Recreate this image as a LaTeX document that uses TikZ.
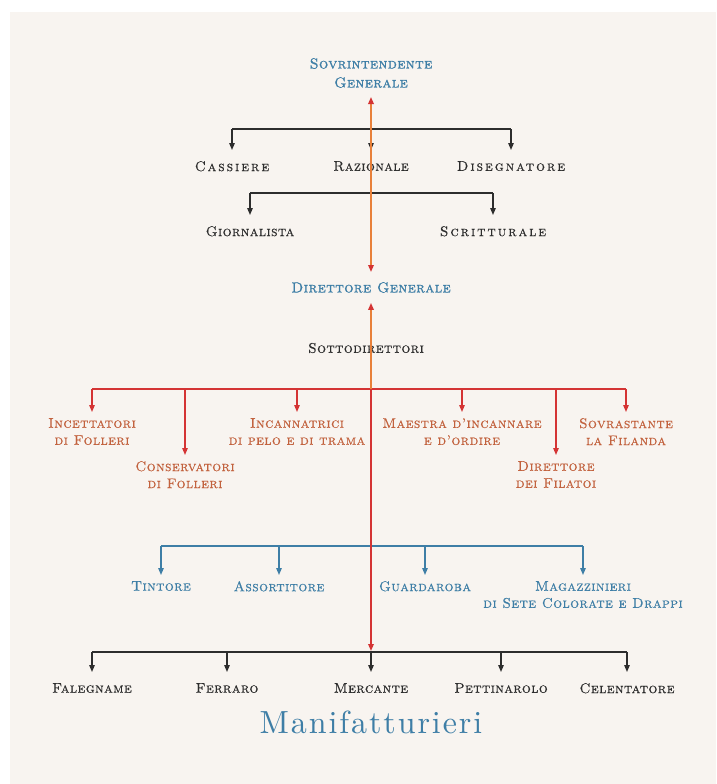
\documentclass[tikz,border=0pt]{standalone}
\usepackage{fontspec}
\usetikzlibrary{arrows.meta}

\newfontfamily\capsfont{lmromancaps10-regular.otf}[LetterSpace=3,FakeBold=0.5]
\newfontfamily\headfont{lmromancaps10-regular.otf}[LetterSpace=3,FakeBold=1.4]
\newfontfamily\titlefont{lmroman10-regular.otf}[LetterSpace=6]

\definecolor{paper}{RGB}{248,244,240}
\definecolor{ink}{RGB}{45,45,45}
\definecolor{steel}{RGB}{62,126,166}
\definecolor{rust}{RGB}{194,98,62}
\definecolor{tipred}{RGB}{212,52,52}
\definecolor{amber}{RGB}{232,128,58}

\tikzset{
  redtip/.tip={Triangle[length=7pt,width=5.5pt,color=tipred]},
  lbl/.style={anchor=north, inner xsep=2pt, inner ysep=11pt, align=center,
    text=ink, font=\capsfont\fontsize{14}{17}\selectfont},
  redlbl/.style={lbl, inner ysep=6pt, text=rust},
  bluelbl/.style={lbl, inner ysep=6pt, text=steel},
  head/.style={lbl, inner ysep=10pt, text=steel,
    font=\headfont\fontsize{14.5}{19}\selectfont},
  blackline/.style={draw=ink, line width=1.3pt},
  redline/.style={draw=tipred, line width=1.3pt},
  blueline/.style={draw=steel, line width=1.3pt},
  mainline/.style={draw=amber, line width=1.6pt}
}

\begin{document}
\begin{tikzpicture}[x=1pt,y=-1pt,>={Triangle[length=7pt,width=5.5pt]}]

\fill[white] (0,0) rectangle (716,784);
\fill[paper] (10,12) rectangle (716,784);

% heads
\node[head, anchor=south, inner ysep=9pt] (sovr) at (371,97) {Sovrintendente\\Generale};
\node[head] (dirgen) at (371,272) {Direttore Generale};

% staff of the sovrintendente
\node[lbl] (cassiere) at (232,150) {\addfontfeature{LetterSpace=14}Cassiere};
\node[lbl] (razionale) at (371,150) {Razionale};
\node[lbl] (disegnatore) at (511,150) {\addfontfeature{LetterSpace=14}Disegnatore};
\node[lbl] (giornalista) at (250,215) {Giornalista};
\node[lbl] (scritturale) at (493,215) {\addfontfeature{LetterSpace=14}Scritturale};

\node[lbl, anchor=center, inner ysep=2pt] (sotto) at (366,348) {Sottodirettori};

% red row
\node[redlbl] (incettatori) at (92,412) {Incettatori\\di Folleri};
\node[redlbl] (conservatori) at (185,455) {Conservatori\\di Folleri};
\node[redlbl] (incannatrici) at (297,412) {Incannatrici\\di pelo e di trama};
\node[redlbl] (maestra) at (462,412) {Maestra d’incannare\\e d’ordire};
\node[redlbl] (dirfilatoi) at (556,455) {Direttore\\dei Filatoi};
\node[redlbl] (sovrastante) at (626,412) {Sovrastante\\la Filanda};

% blue row
\node[bluelbl] (tintore) at (161,575) {Tintore};
\node[bluelbl] (assortitore) at (279,575) {Assortitore};
\node[bluelbl] (guardaroba) at (425,575) {Guardaroba};
\node[bluelbl] (magazzinieri) at (583,575) {Magazzinieri\\di Sete Colorate e Drappi};

% manifatturieri
\node[lbl] (falegname) at (92,672) {Falegname};
\node[lbl] (ferraro) at (227,672) {Ferraro};
\node[lbl] (mercante) at (371,672) {Mercante};
\node[lbl] (pettinarolo) at (501,672) {Pettinarolo};
\node[lbl] (celentatore) at (627,672) {Celentatore};
\node[text=steel, font=\titlefont\fontsize{32}{36}\selectfont] (manif) at (371,722) {Manifatturieri};

\coordinate (topbar) at (371,129);
\coordinate (midbar) at (371,193);
\coordinate (redbar) at (371,389);
\coordinate (bluebar) at (371,546);
\coordinate (mbar) at (371,652);

% bars
\draw[blackline] (cassiere |- topbar) -- (disegnatore |- topbar);
\foreach \n in {cassiere, razionale, disegnatore}
  \draw[blackline,->] (\n |- topbar) -- (\n.north);
\draw[blackline] (giornalista |- midbar) -- (scritturale |- midbar);
\foreach \n in {giornalista, scritturale}
  \draw[blackline,->] (\n |- midbar) -- (\n.north);

\draw[redline] (incettatori |- redbar) -- (sovrastante |- redbar);
\foreach \n in {incettatori, conservatori, incannatrici, maestra, dirfilatoi, sovrastante}
  \draw[redline,->] (\n |- redbar) -- (\n.north);

\draw[blueline] (tintore |- bluebar) -- (magazzinieri |- bluebar);
\foreach \n in {tintore, assortitore, guardaroba, magazzinieri}
  \draw[blueline,->] (\n |- bluebar) -- (\n.north);

\draw[blackline] (falegname |- mbar) -- (celentatore |- mbar);
\foreach \n in {falegname, ferraro, mercante, pettinarolo, celentatore}
  \draw[blackline,->] (\n |- mbar) -- (\n.north);

% main line
\draw[mainline, redtip-redtip] (sovr.south) -- (dirgen.north);
\draw[mainline, redtip-] (dirgen.south) -- (redbar);
\draw[redline, line width=1.6pt, -redtip, shorten >=1pt] (redbar) -- (mbar);

\end{tikzpicture}
\end{document}
